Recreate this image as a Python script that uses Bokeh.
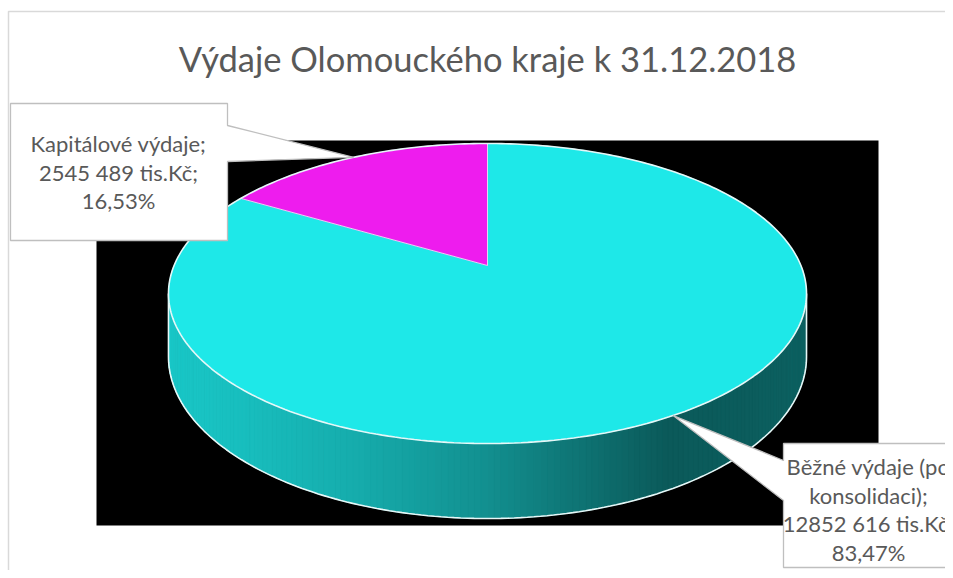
import math
import textwrap
import numpy as np
from bokeh.plotting import figure
from bokeh.models import Range1d
from bokeh.core.properties import value
from bokeh.embed import file_html
from bokeh.resources import INLINE

# ---------------- data ----------------
title_text = "Výdaje Olomouckého kraje k 31.12.2018"
categories = ["Běžné výdaje (po konsolidaci)", "Kapitálové výdaje"]
values_tis = [12852616, 2545489]          # tis. Kč
unit_label = "tis.Kč"
slice_colors = [(30, 232, 232), (238, 28, 238)]

# ---------------- layout / style ----------------
W, H = 945, 570
FONT = "Lato"
TXT = "#595959"

p = figure(width=W, height=H, x_range=Range1d(0, W), y_range=Range1d(H, 0),
           output_backend="svg", toolbar_location=None, min_border=0,
           x_axis_type=None, y_axis_type=None)
p.grid.visible = False
p.outline_line_color = None
p.background_fill_color = "white"
p.border_fill_color = "white"

# outer chart border
p.multi_line(xs=[[8, 8, 1000]], ys=[[1000, 11, 11]], line_color="#d9d9d9", line_width=1.5)

# black plot area
p.quad(left=[96], right=[878], top=[140], bottom=[525], fill_color="black", line_color=None)

# perspective pie geometry (screen pixels)
cx, cy = 487.0, 265.0
F, Fs, k = 313.4, 144.8, 0.1867
G = 61.0


def proj(theta_deg):
    t = math.radians(theta_deg)
    X, Z = math.sin(t), math.cos(t)
    d = 1 + k * Z
    return cx + F * X / d, cy - Fs * Z / d


def side_depth(theta_deg):
    Z = math.cos(math.radians(theta_deg))
    return G / (1 + k * Z)


total = float(sum(values_tis))
fracs = [v / total for v in values_tis]
starts = np.concatenate([[0.0], np.cumsum(fracs)[:-1]]) * 360.0
ends = np.cumsum(fracs) * 360.0

# ---- side band (front part) with shading gradient ----
thR = math.degrees(math.acos(-k))
thL = 360.0 - thR
N = 160
ths = np.linspace(thR, thL, N + 1)
xL_ext, _ = proj(thL)
xR_ext, _ = proj(thR)
u_stops = [0.0, 0.12, 0.3, 0.5, 0.68, 0.78, 0.9, 1.0]
f_stops = [0.86, 0.82, 0.74, 0.62, 0.47, 0.39, 0.40, 0.42]

sx, sy, scol = [], [], []
for a, b in zip(ths[:-1], ths[1:]):
    mid = 0.5 * (a + b)
    idx = int(np.searchsorted(ends, mid % 360.0))
    idx = min(idx, len(values_tis) - 1)
    x1, y1 = proj(a)
    x2, y2 = proj(b)
    sx.append([x1, x2, x2, x1])
    sy.append([y1, y2, y2 + side_depth(b), y1 + side_depth(a)])
    u = ((x1 + x2) / 2 - xL_ext) / (xR_ext - xL_ext)
    f = float(np.interp(u, u_stops, f_stops))
    r, g, bb = slice_colors[idx]
    scol.append("#%02x%02x%02x" % (int(r * f), int(g * f), int(bb * f)))
p.patches(xs=sx, ys=sy, fill_color=scol, line_color=scol, line_width=1)

# side outline (bottom curve + vertical edges)
bx = [proj(t)[0] for t in ths]
by = [proj(t)[1] + side_depth(t) for t in ths]
p.line(x=[proj(thR)[0]] + bx + [proj(thL)[0]],
       y=[proj(thR)[1]] + by + [proj(thL)[1]],
       line_color="#e6f7f7", line_width=1.6)

# ---- top face slices ----
for s, e, col in zip(starts, ends, slice_colors):
    ts = np.linspace(s, e, max(8, int((e - s) * 2)))
    px = [cx] + [proj(t)[0] for t in ts]
    py = [cy] + [proj(t)[1] for t in ts]
    hexcol = "#%02x%02x%02x" % col
    p.patch(x=px, y=py, fill_color=hexcol, line_color=hexcol, line_width=0.5)

# top outline + radial boundaries
tt = np.linspace(0, 360, 361)
p.line(x=[proj(t)[0] for t in tt], y=[proj(t)[1] for t in tt], line_color="#e6f7f7", line_width=1.6)
rx_, ry_ = [], []
for s in starts:
    ex, ey = proj(s)
    rx_.append([cx, ex])
    ry_.append([cy, ey])
p.multi_line(xs=rx_, ys=ry_, line_color="#f0fafa", line_width=1.0, line_alpha=0.8)

# ---- callout labels ----
def fmt_val(v):
    return f"{v // 1000} {v % 1000:03d}"


pcts = [f"{fr * 100:.2f}".replace(".", ",") + "%" for fr in fracs]
mids = [(s + e) / 2 for s, e in zip(starts, ends)]

# label boxes (layout)
boxes = [
    dict(x0=783, y0=443, x1=953, y1=567, side="left", wy=(460, 500), wrap=16, cxt=868, ly0=466),
    dict(x0=10, y0=103, x1=227, y1=240, side="right", wy=(125, 161), wrap=20, cxt=118, ly0=143),
]
LINE_H = 28.6
for i, bxd in enumerate(boxes):
    tip = proj(mids[i])
    x0, y0, x1, y1 = bxd["x0"], bxd["y0"], bxd["x1"], bxd["y1"]
    wa, wb = bxd["wy"]
    if bxd["side"] == "left":
        pts = [(x0, y0), (x1, y0), (x1, y1), (x0, y1), (x0, wb), tip, (x0, wa)]
    else:
        pts = [(x0, y0), (x1, y0), (x1, wa), tip, (x1, wb), (x1, y1), (x0, y1)]
    p.patch(x=[q[0] for q in pts], y=[q[1] for q in pts], fill_color="white",
            line_color="#bfbfbf", line_width=1.3)
    lines = textwrap.wrap(categories[i] + ";", bxd["wrap"]) + \
        [f"{fmt_val(values_tis[i])} {unit_label};", pcts[i]]
    p.text(x=[bxd["cxt"]] * len(lines), y=[bxd["ly0"] + j * LINE_H for j in range(len(lines))],
           text=lines, text_font=value(FONT), text_font_size=value("22px"),
           text_align="center", text_baseline="middle", text_color=TXT)

# title
p.text(x=[487], y=[58], text=[title_text], text_font=value(FONT), text_font_size=value("34.5px"),
       text_align="center", text_baseline="middle", text_color=TXT)

open("out.html", "w").write(file_html(p, INLINE))
